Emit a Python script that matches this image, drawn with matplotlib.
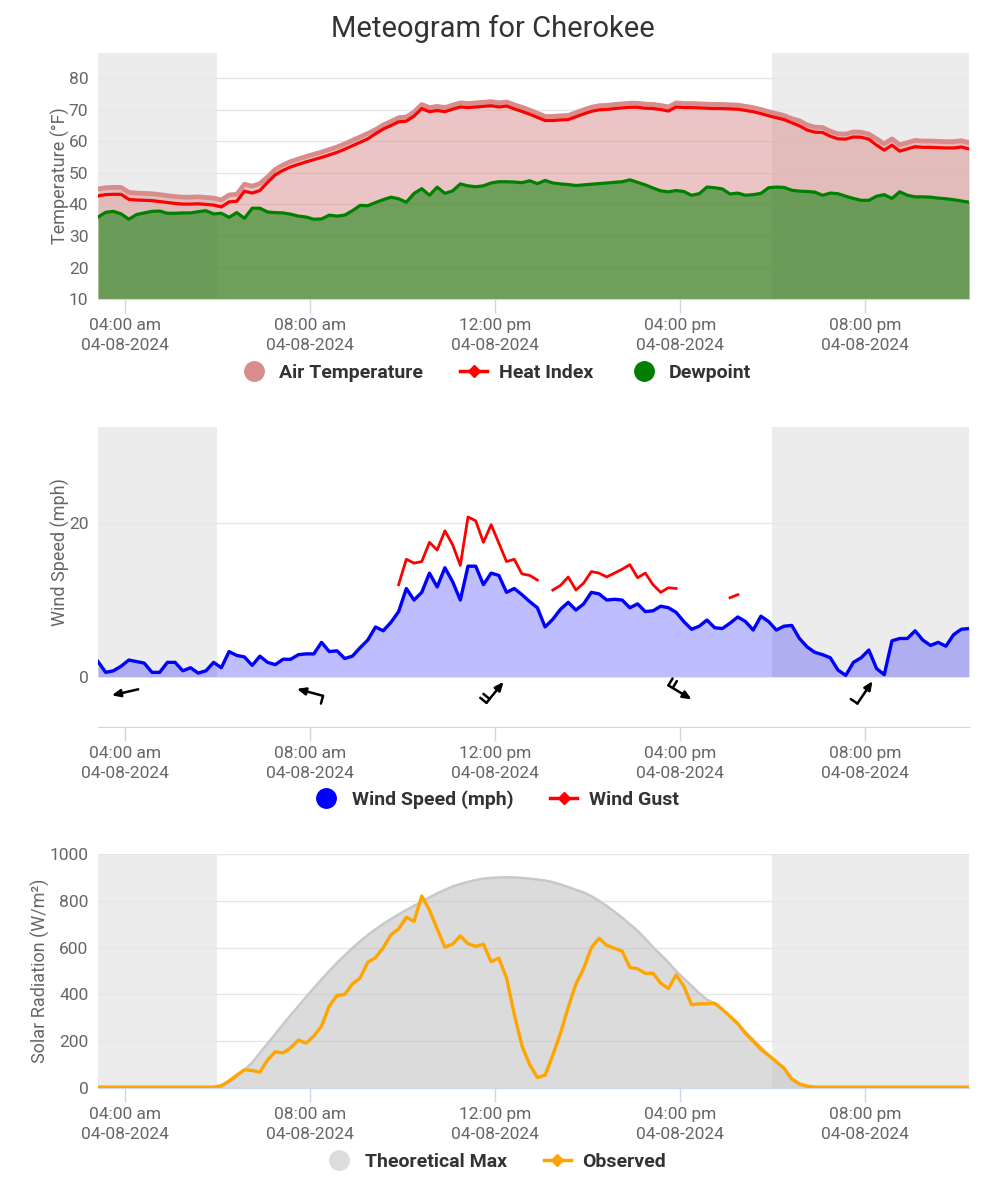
import numpy as np
import pandas as pd
import matplotlib
matplotlib.use('Agg')
import matplotlib.pyplot as plt
import matplotlib.dates as mdates
from matplotlib.lines import Line2D
from matplotlib.transforms import offset_copy

plt.rcParams['font.family'] = ['Roboto', 'DejaVu Sans']

nan = np.nan

# 10 minute observations for the station, 03:25 -> 22:15
times = pd.date_range('2024-04-08 03:25', periods=114, freq='10min')

air_temp = [
    44.9, 45.3, 45.4, 45.4, 43.8, 43.6, 43.5, 43.4, 43.1, 42.8,
    42.5, 42.3, 42.3, 42.4, 42.2, 42.0, 41.4, 43.0, 43.2, 46.4,
    45.8, 46.6, 48.7, 51.1, 52.5, 53.6, 54.4, 55.2, 55.9, 56.6,
    57.4, 58.2, 59.2, 60.3, 61.4, 62.5, 63.7, 65.2, 66.3, 67.5,
    67.7, 69.3, 71.7, 70.7, 71.1, 70.7, 71.5, 72.2, 72.0, 72.2,
    72.4, 72.6, 72.2, 72.5, 71.6, 70.8, 69.9, 68.9, 67.9, 67.9,
    68.1, 68.2, 69.1, 70.0, 70.8, 71.3, 71.4, 71.7, 71.9, 72.1,
    72.1, 71.8, 71.7, 71.4, 70.9, 72.2, 72.0, 72.0, 71.9, 71.8,
    71.7, 71.7, 71.6, 71.5, 71.1, 70.7, 70.1, 69.4, 68.8, 68.2,
    67.2, 66.5, 65.2, 64.5, 64.4, 63.2, 62.4, 62.3, 63.0, 62.9,
    62.3, 60.8, 59.2, 60.8, 58.9, 59.6, 60.3, 60.1, 60.1, 60.0,
    59.9, 59.9, 60.2, 59.6]

heat_index = [
    42.7, 43.1, 43.2, 43.2, 41.6, 41.4, 41.3, 41.2, 40.9, 40.6,
    40.3, 40.1, 40.1, 40.2, 40.0, 39.8, 39.2, 40.8, 41.0, 44.2,
    43.6, 44.4, 47.0, 49.4, 50.8, 51.9, 52.7, 53.5, 54.2, 54.9,
    55.7, 56.5, 57.5, 58.6, 59.7, 60.8, 62.4, 63.9, 65.0, 66.2,
    66.4, 68.0, 70.4, 69.4, 69.8, 69.4, 70.2, 70.9, 70.7, 70.9,
    71.1, 71.3, 70.9, 71.2, 70.3, 69.5, 68.6, 67.6, 66.6, 66.6,
    66.8, 66.9, 67.8, 68.7, 69.5, 70.0, 70.1, 70.4, 70.6, 70.8,
    70.8, 70.5, 70.4, 70.1, 69.6, 70.9, 70.7, 70.7, 70.6, 70.5,
    70.4, 70.4, 70.3, 70.2, 69.8, 69.4, 68.8, 68.1, 67.5, 66.9,
    65.9, 64.9, 63.6, 62.9, 62.8, 61.6, 60.8, 60.7, 61.4, 61.3,
    60.7, 58.8, 57.2, 58.8, 56.9, 57.6, 58.3, 58.1, 58.1, 58.0,
    57.9, 57.9, 58.2, 57.6]

dewpoint = [
    36.0, 37.5, 37.8, 37.0, 35.3, 36.8, 37.3, 37.8, 37.9, 37.2,
    37.2, 37.3, 37.3, 37.7, 38.0, 37.0, 37.2, 35.9, 37.4, 35.6,
    38.8, 38.8, 37.6, 37.4, 37.3, 36.9, 36.3, 36.0, 35.3, 35.4,
    36.6, 36.3, 36.6, 38.0, 39.7, 39.6, 40.6, 41.5, 42.3, 41.8,
    40.7, 43.5, 45.0, 42.9, 45.5, 43.5, 44.3, 46.5, 45.9, 45.6,
    45.9, 46.8, 47.2, 47.2, 47.1, 46.9, 47.5, 46.6, 47.6, 46.8,
    46.5, 46.3, 46.0, 46.2, 46.4, 46.6, 46.8, 47.0, 47.2, 47.8,
    47.0, 46.2, 45.2, 44.3, 44.0, 44.4, 44.1, 42.9, 43.4, 45.5,
    45.3, 44.9, 43.3, 43.6, 42.9, 43.1, 43.5, 45.3, 45.5, 45.4,
    44.5, 44.2, 44.1, 43.9, 42.9, 43.6, 43.4, 42.6, 41.9, 41.3,
    41.3, 42.6, 43.1, 41.9, 44.0, 42.9, 42.4, 42.4, 42.3, 42.0,
    41.8, 41.5, 41.1, 40.7]

wind_speed = [
    2.0, 0.6, 0.8, 1.4, 2.2, 2.0, 1.8, 0.6, 0.6, 1.9,
    1.9, 0.8, 1.2, 0.5, 0.8, 1.9, 1.2, 3.3, 2.8, 2.6,
    1.5, 2.7, 1.9, 1.6, 2.3, 2.3, 2.9, 3.0, 3.0, 4.5,
    3.3, 3.4, 2.4, 2.7, 3.8, 4.8, 6.5, 6.0, 7.1, 8.5,
    11.5, 10.0, 11.0, 13.5, 11.7, 14.2, 12.4, 10.0, 14.4, 14.4,
    12.0, 13.5, 13.2, 11.0, 11.5, 10.7, 9.8, 9.0, 6.5, 7.5,
    8.8, 9.7, 8.7, 9.5, 11.0, 10.8, 10.0, 10.1, 10.0, 9.0,
    9.5, 8.5, 8.6, 9.2, 9.0, 8.4, 7.2, 6.2, 6.6, 7.4,
    6.4, 6.3, 7.0, 7.8, 7.2, 6.1, 7.9, 7.2, 6.1, 6.6,
    6.7, 5.0, 3.9, 3.2, 2.9, 2.5, 0.9, 0.2, 1.9, 2.5,
    3.5, 1.1, 0.3, 4.7, 5.0, 5.0, 6.0, 4.8, 4.1, 4.5,
    4.0, 5.5, 6.2, 6.3]

wind_gust = [nan] * 39 + [
    12.0, 15.3, 14.8, 15.0, 17.5, 16.5, 19.0, 17.2, 14.5, 20.8,
    20.3, 17.5, 19.8, 17.4, 15.0, 15.3, 13.4, 13.2, 12.6,
    nan,
    11.3, 11.9, 13.0, 11.3, 12.2, 13.7, 13.5, 13.0, 13.5, 14.0,
    14.6, 12.9, 13.5, 12.0, 11.0, 11.6, 11.5] + [nan] * 6 + [10.3, 10.7] + [nan] * 30

# wind arrows drawn under the wind panel
barb_times = pd.to_datetime(['2024-04-08 04:00', '2024-04-08 08:00', '2024-04-08 12:00',
                             '2024-04-08 16:00', '2024-04-08 20:00'])
barb_dir_from = [77, 105, 219, 301, 214]
barb_count = [0, 1, 2, 2, 1]

solar_max = [0] * 16 + [
    5, 25, 48, 77, 109, 150, 190, 231, 272, 312,
    350, 389, 427, 465, 500, 535, 567, 598, 627, 654,
    678, 701, 722, 742, 761, 779, 796, 815, 832, 847,
    861, 872, 881, 889, 895, 898, 900, 901, 900, 898,
    895, 891, 887, 880, 870, 859, 847, 836, 820, 800,
    778, 754, 728, 700, 672, 638, 602, 570, 537, 500,
    468, 437, 405, 378, 362, 336, 306, 275, 240, 207,
    175, 141, 112, 85, 40, 14, 3] + [0] * 21

solar_obs = [4] * 16 + [
    10, 30, 55, 78, 75, 68, 120, 155, 150, 172,
    205, 192, 222, 265, 350, 396, 400, 445, 470, 538,
    557, 600, 655, 680, 730, 712, 821, 760, 680, 602,
    615, 650, 617, 605, 615, 540, 555, 470, 315, 180,
    100, 45, 55, 140, 235, 345, 445, 510, 600, 640,
    610, 597, 585, 515, 510, 490, 491, 448, 425, 484,
    435, 356, 360, 360, 362, 336, 306, 275, 233, 200,
    165, 140, 112, 85, 38, 18, 8] + [4] * 21

tick_times = pd.to_datetime(['2024-04-08 04:00', '2024-04-08 08:00', '2024-04-08 12:00',
                             '2024-04-08 16:00', '2024-04-08 20:00'])
sunrise = pd.Timestamp('2024-04-08 06:00')
sunset = pd.Timestamp('2024-04-08 18:00')

grid_col = '#e6e6e6'
axis_col = '#ccd6eb'
label_col = '#666666'
night_col = '#ececec'


def style_axis(ax):
    for s in ['top', 'right', 'left']:
        ax.spines[s].set_visible(False)
    ax.spines['bottom'].set_color(axis_col)
    ax.set_axisbelow(True)
    ax.grid(axis='y', color=grid_col, lw=1)
    ax.set_xlim(times[0], times[-1])
    ax.set_xticks(tick_times)
    ax.set_xticklabels([t.strftime('%I:%M %p').lower() + '\n' + t.strftime('%m-%d-%Y')
                        for t in tick_times], linespacing=1.35)
    ax.tick_params(axis='x', colors=axis_col, labelcolor=label_col, length=10,
                   width=1, labelsize=12.5, pad=4)
    ax.tick_params(axis='y', length=0, labelcolor=label_col, labelsize=12.5, pad=7)


def night(ax, ymin=0.0):
    # shade the hours before sunrise and after sunset, below the grid
    ax.axvspan(times[0], sunrise, ymin=ymin, color=night_col, lw=0, zorder=0.1)
    ax.axvspan(sunset, times[-1], ymin=ymin, color=night_col, lw=0, zorder=0.1)


fig = plt.figure(figsize=(9.86, 12), dpi=100)
fig.suptitle('Meteogram for Cherokee', y=0.988, fontsize=21, color='#333333')

# --- temperature panel ---
ax1 = fig.add_axes([0.0994, 0.7508, 0.8834, 0.2050])
style_axis(ax1)
ax1.set_ylim(10, 88)
ax1.set_yticks(range(10, 81, 10))
night(ax1)
ax1.fill_between(times, 10, air_temp, color='#d98c8c', alpha=0.5, lw=0, zorder=1)
ax1.fill_between(times, 10, dewpoint, color='#008000', alpha=0.53, lw=0, zorder=2)
ax1.plot(times, air_temp, color='#d98c8c', lw=3.4, zorder=3)
ax1.plot(times, heat_index, color='#ff0000', lw=2.3, zorder=4)
ax1.plot(times, dewpoint, color='#008000', lw=2.3, zorder=4)
ax1.set_ylabel('Temperature (°F)', color=label_col, fontsize=13)
ax1.yaxis.set_label_coords(-0.032, 0.5)

# --- wind panel ---
ax2 = fig.add_axes([0.0994, 0.3942, 0.8834, 0.25])
style_axis(ax2)
ax2.set_ylim(-6.5, 32.5)
ax2.set_yticks([0, 20])
ax2.grid(False)
ax2.axhline(20, color=grid_col, lw=1, zorder=0.6)
night(ax2, ymin=6.5 / 39.0)
ax2.fill_between(times, 0, wind_speed, color='#0000ff', alpha=0.26, lw=0, zorder=1)
ax2.plot(times, wind_speed, color='#0000ff', lw=2.4, zorder=3)
ax2.plot(times, wind_gust, color='#ff0000', lw=2.0, zorder=3)
ax2.set_ylabel('Wind Speed (mph)', color=label_col, fontsize=13)
ax2.yaxis.set_label_coords(-0.032, (16.25 + 6.5) / 39.0)

# wind arrows, pointing where the wind blows to, feathers on the tail
arrow_len = 27
for bt, d, n in zip(barb_times, barb_dir_from, barb_count):
    ang = np.deg2rad(90 - (d + 180))
    ux, uy = np.cos(ang), np.sin(ang)
    px, py = -uy, ux
    bx = mdates.date2num(bt)
    head = offset_copy(ax2.transData, fig=fig, x=ux * arrow_len / 2, y=uy * arrow_len / 2, units='dots')
    tail = offset_copy(ax2.transData, fig=fig, x=-ux * arrow_len / 2, y=-uy * arrow_len / 2, units='dots')
    ax2.annotate('', xy=(bx, -2), xycoords=head, xytext=(bx, -2), textcoords=tail,
                 arrowprops=dict(arrowstyle='-|>,head_length=0.5,head_width=0.22',
                                 color='black', lw=1.8, shrinkA=0, shrinkB=0),
                 annotation_clip=False)
    for k in range(n):
        sx = -ux * arrow_len / 2 + ux * 5 * k
        sy = -uy * arrow_len / 2 + uy * 5 * k
        b0 = offset_copy(ax2.transData, fig=fig, x=sx, y=sy, units='dots')
        b1 = offset_copy(ax2.transData, fig=fig, x=sx + px * 8, y=sy + py * 8, units='dots')
        ax2.annotate('', xy=(bx, -2), xycoords=b1, xytext=(bx, -2), textcoords=b0,
                     arrowprops=dict(arrowstyle='-', color='black', lw=1.8,
                                     shrinkA=0, shrinkB=0),
                     annotation_clip=False)

# --- solar panel ---
ax3 = fig.add_axes([0.0994, 0.0933, 0.8834, 0.195])
style_axis(ax3)
ax3.set_ylim(0, 1000)
ax3.set_yticks(range(0, 1001, 200))
night(ax3)
ax3.fill_between(times, 0, solar_max, color='#bfbfbf', alpha=0.55, lw=0, zorder=1)
ax3.plot(times, solar_max, color='#c8c8c8', lw=1.8, zorder=2)
ax3.plot(times, solar_obs, color='#ffa500', lw=2.4, zorder=3)
ax3.set_ylabel('Solar Radiation (W/m²)', color=label_col, fontsize=13)
ax3.yaxis.set_label_coords(-0.055, 0.5)

# --- legends ---
leg_font = dict(weight='bold', size=14)


def add_legend(handles, labels, y):
    fig.legend(handles, labels, loc='center', bbox_to_anchor=(0.503, y), ncol=len(labels),
               frameon=False, prop=leg_font, labelcolor='#333333', handlelength=1.4,
               columnspacing=1.9, handletextpad=0.6)


def circle(c):
    return Line2D([], [], marker='o', ls='none', markersize=14, color=c)


def line_dia(c):
    return Line2D([], [], marker='D', ls='-', lw=2.5, markersize=6, color=c)


add_legend([circle('#d98c8c'), line_dia('#ff0000'), circle('#008000')],
           ['Air Temperature', 'Heat Index', 'Dewpoint'], 1 - 373 / 1200)
add_legend([circle('#0000ff'), line_dia('#ff0000')],
           ['Wind Speed (mph)', 'Wind Gust'], 1 - 800 / 1200)
add_legend([circle('#dcdcdc'), line_dia('#ffa500')],
           ['Theoretical Max', 'Observed'], 1 - 1162 / 1200)

fig.savefig('out.png', dpi=100)
